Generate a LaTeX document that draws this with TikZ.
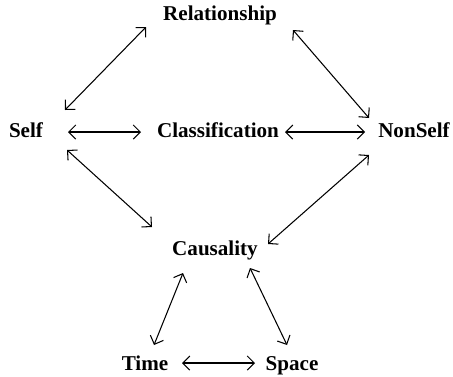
\documentclass[tikz,border=0pt]{standalone}
\usepackage{fontspec}
\setmainfont{Liberation Serif}
\usetikzlibrary{arrows.meta}

\begin{document}
\begin{tikzpicture}[x=0.025cm,y=-0.025cm,
    concept/.style={font=\bfseries\fontsize{15}{17}\selectfont,inner sep=0pt,text height=1.6ex,text depth=0pt},
    link/.style={{Straight Barb[length=5pt,width=10pt]}-{Straight Barb[length=5pt,width=10pt]},line width=0.75pt}]
        \useasboundingbox (0,0) rectangle (453,376);
        \node[concept] (rel)     at (220, 15) {Relationship};
        \node[concept] (self)    at ( 26,132) {Self};
        \node[concept] (class)   at (218,132) {Classification};
        \node[concept] (nonself) at (414,132) {NonSelf};
        \node[concept] (caus)    at (215,250) {Causality};
        \node[concept] (time)    at (145,365) {Time};
        \node[concept] (space)   at (292,365) {Space};
        % upper ring
        \draw[link] ([shift={( 39,-22)}]self.center)    -- ([shift={(-74, 12)}]rel.center);
        \draw[link] ([shift={( 73, 15)}]rel.center)     -- ([shift={(-45,-14)}]nonself.center);
        \draw[link] ([shift={( 42,  0)}]self.center)    -- ([shift={(-77,  0)}]class.center);
        \draw[link] ([shift={( 67,  0)}]class.center)   -- ([shift={(-49,  0)}]nonself.center);
        \draw[link] ([shift={( 41, 18)}]self.center)    -- ([shift={(-63,-23)}]caus.center);
        \draw[link] ([shift={(-45, 23)}]nonself.center) -- ([shift={( 53, -6)}]caus.center);
        % lower triangle
        \draw[link] ([shift={(-32, 23)}]caus.center)    -- ([shift={(  9,-20)}]time.center);
        \draw[link] ([shift={( 35, 18)}]caus.center)    -- ([shift={( -5,-20)}]space.center);
        \draw[link] ([shift={( 37, -2)}]time.center)    -- ([shift={(-37, -2)}]space.center);
      \end{tikzpicture}
\end{document}
